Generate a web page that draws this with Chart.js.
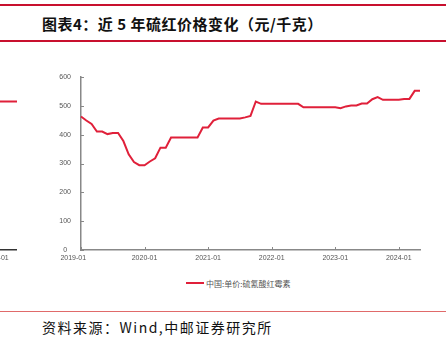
<!DOCTYPE html>
<html>
<head>
<meta charset="utf-8">
<script src="https://cdn.jsdelivr.net/npm/chart.js@4.4.1/dist/chart.umd.min.js"></script>
<style>
  html, body { margin: 0; padding: 0; background: #fff; }
  body { width: 446px; height: 344px; position: relative; overflow: hidden;
         font-family: "Noto Sans CJK SC", "Noto Sans", sans-serif; }
  .rule { position: absolute; left: 0; width: 446px; }
  #ruleTop  { top: 4px;   height: 2px; background: #c8102e; }
  #ruleHead { top: 40px;  height: 2px; background: #c8102e; }
  #ruleFoot { top: 311px; height: 1px; background: #e06a6a; }
  #title { position: absolute; left: 42px; top: 13px; font-size: 15px; font-weight: 700;
           line-height: 22px; color: #111; letter-spacing: 0.5px; white-space: nowrap; }
  #source { position: absolute; left: 42px; top: 317px; font-size: 14px; line-height: 20px;
            color: #111; letter-spacing: 1.5px; white-space: nowrap; }
  #legend { position: absolute; left: 186px; top: 277px; height: 12px; font-size: 8px;
            color: #555; white-space: nowrap; display: flex; align-items: center; }
  #legend i { display: inline-block; width: 18px; height: 2px; background: #e0203a; margin-right: 2px; }
  #mainWrap { position: absolute; left: 40px; top: 60px; }
  #sideWrap { position: absolute; left: -60px; top: 60px; }
</style>
</head>
<body>
<div class="rule" id="ruleTop"></div>
<div id="title">图表4：近 5 年硫红价格变化（元/千克）</div>
<div class="rule" id="ruleHead"></div>

<div id="sideWrap"><canvas id="side" width="77" height="210"></canvas></div>
<div id="mainWrap"><canvas id="main" width="400" height="210"></canvas></div>

<div id="legend"><i></i>中国:单价:硫氰酸红霉素</div>

<div class="rule" id="ruleFoot"></div>
<div id="source">资料来源：Wind,中邮证券研究所</div>

<script>
// Monthly observation dates, 2019-01 .. 2024-05
const months = [
  '2019-01','2019-02','2019-03','2019-04','2019-05','2019-06','2019-07','2019-08','2019-09','2019-10','2019-11','2019-12',
  '2020-01','2020-02','2020-03','2020-04','2020-05','2020-06','2020-07','2020-08','2020-09','2020-10','2020-11','2020-12',
  '2021-01','2021-02','2021-03','2021-04','2021-05','2021-06','2021-07','2021-08','2021-09','2021-10','2021-11','2021-12',
  '2022-01','2022-02','2022-03','2022-04','2022-05','2022-06','2022-07','2022-08','2022-09','2022-10','2022-11','2022-12',
  '2023-01','2023-02','2023-03','2023-04','2023-05','2023-06','2023-07','2023-08','2023-09','2023-10','2023-11','2023-12',
  '2024-01','2024-02','2024-03','2024-04','2024-05'
];

// 中国:单价:硫氰酸红霉素 (元/千克)
const priceValues = [
  463, 449, 437, 411, 411, 402, 406, 406, 378, 332, 305, 294,
  294, 307, 318, 355, 355, 390, 390, 390, 390, 390, 390, 425,
  425, 449, 456, 456, 456, 456, 456, 460, 465, 515, 507, 507,
  507, 507, 507, 507, 507, 507, 495, 495, 495, 495, 495, 495,
  495, 492, 498, 501, 501, 508, 508, 523, 530, 521, 521, 521,
  521, 524, 524, 552, 552
];

const yTicks = [0, 100, 200, 300, 400, 500, 600];

// Tail of the neighbouring panel on the left edge
const sideMonths = ['2023-10','2023-11','2023-12','2024-01','2024-02','2024-03','2024-04','2024-05'];
const sideValues = [515, 515, 515, 515, 515, 515, 515, 515];

const tickFont = { family: '"Liberation Sans", Arial, sans-serif', size: 7 };
// Only January gets a label; the very first one is nudged left of the axis corner
const janOnly = function (v, i) {
  const l = this.getLabelForValue(v);
  if (!l.endsWith('-01')) return null;
  return i === 0 ? l + '        ' : l;
};

// Small tick marks that point into the plot area
const innerTicks = {
  id: 'innerTicks',
  afterDraw(chart, args, opts) {
    const { ctx, chartArea: a } = chart;
    const x = chart.scales.x, y = chart.scales.y;
    ctx.save();
    ctx.strokeStyle = opts.color || '#888';
    ctx.lineWidth = 1;
    x.ticks.forEach((t, i) => {
      if (t.label == null) return;
      const px = Math.round(x.getPixelForTick(i)) + 0.5;
      ctx.beginPath(); ctx.moveTo(px, a.bottom); ctx.lineTo(px, a.bottom - 3); ctx.stroke();
    });
    if (y.options.display) {
      y.ticks.forEach((t, i) => {
        const py = Math.round(y.getPixelForTick(i)) + 0.5;
        ctx.beginPath(); ctx.moveTo(a.left, py); ctx.lineTo(a.left + 3, py); ctx.stroke();
      });
    }
    ctx.restore();
  }
};

new Chart(document.getElementById('main'), {
  type: 'line',
  data: {
    labels: months,
    datasets: [{
      label: '中国:单价:硫氰酸红霉素',
      data: priceValues,
      borderColor: '#e0203a',
      borderWidth: 2,
      pointRadius: 0,
      tension: 0,
      fill: false
    }]
  },
  options: {
    responsive: false,
    animation: false,
    devicePixelRatio: 1,
    layout: { padding: { left: 0, right: 20, top: 17, bottom: 0 } },
    plugins: { legend: { display: false }, tooltip: { enabled: false }, innerTicks: { color: '#888' } },
    scales: {
      x: {
        type: 'category',
        offset: false,
        border: { display: true, color: '#888', width: 1.5 },
        grid: { drawOnChartArea: false, drawTicks: false },
        ticks: { autoSkip: false, maxRotation: 0, padding: 4, font: tickFont, color: '#555', callback: janOnly },
        afterFit: s => { s.height = 20; }
      },
      y: {
        min: 0, max: 600,
        afterBuildTicks: s => { s.ticks = yTicks.map(v => ({ value: v })); },
        border: { display: true, color: '#888', width: 1.5 },
        grid: { drawOnChartArea: false, drawTicks: false },
        ticks: { padding: 10, crossAlign: 'center', font: tickFont, color: '#555' },
        afterFit: s => { s.width = 41; }
      }
    }
  },
  plugins: [innerTicks]
});

new Chart(document.getElementById('side'), {
  type: 'line',
  data: {
    labels: sideMonths,
    datasets: [{
      data: sideValues,
      borderColor: '#e0203a',
      borderWidth: 2,
      pointRadius: 0,
      tension: 0,
      fill: false
    }]
  },
  options: {
    responsive: false,
    animation: false,
    devicePixelRatio: 1,
    layout: { padding: { left: 40, right: 0, top: 17, bottom: 0 } },
    plugins: { legend: { display: false }, tooltip: { enabled: false }, innerTicks: { color: '#333' } },
    scales: {
      x: {
        type: 'category',
        offset: false,
        border: { display: true, color: '#333', width: 1.5 },
        grid: { drawOnChartArea: false, drawTicks: false },
        ticks: { autoSkip: false, maxRotation: 0, padding: 4, font: tickFont, color: '#555', callback: janOnly },
        afterFit: s => { s.height = 20; }
      },
      y: { display: false, min: 0, max: 600 }
    }
  },
  plugins: [innerTicks]
});
</script>
</body>
</html>
